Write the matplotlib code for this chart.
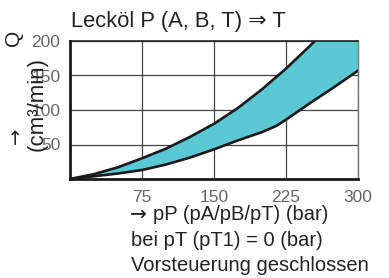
import matplotlib
matplotlib.use("Agg")
import matplotlib.pyplot as plt
import numpy as np

plt.rcParams['font.family'] = ['Liberation Sans', 'DejaVu Sans']

upper_x = [0, 25, 50, 75, 100, 125, 150, 175, 200, 225, 250, 270]
upper_y = [0, 7, 17, 30, 44, 61, 80, 103, 130, 160, 193, 222]
lower_x = [0, 25, 50, 75, 100, 125, 150, 175, 200, 215, 225, 250, 275, 300]
lower_y = [0, 4, 8, 13, 21, 31, 43, 56, 68, 77, 86, 110, 133, 157]

xticks = [75, 150, 225, 300]
yticks = [50, 100, 150, 200]

title = "Lecköl P (A, B, T) ⇒ T"
xlabel_first = "pP (pA/pB/pT) (bar)"
xlabel_lines = ["bei pT (pT1) = 0 (bar)", "Vorsteuerung geschlossen"]

fig = plt.figure(figsize=(3.89, 2.78), dpi=100)
ax = fig.add_axes([70/389, 1-179/278, (358-70)/389, (179-41)/278])

xs = np.linspace(0, 300, 301)
up = np.interp(xs, upper_x, upper_y)
lo = np.interp(xs, lower_x, lower_y)
ax.fill_between(xs, lo, np.minimum(up, 200), color='#5bc8d6', zorder=2, lw=0)
ax.plot(upper_x, upper_y, color='#1a1a1a', lw=1.9, zorder=3, solid_capstyle='round')
ax.plot(lower_x, lower_y, color='#1a1a1a', lw=1.9, zorder=3, solid_capstyle='round')

ax.set_xlim(0, 300)
ax.set_ylim(0, 200)
ax.set_xticks(xticks)
ax.set_yticks(yticks)
ax.grid(True, color='#444444', lw=0.9, zorder=1)
ax.tick_params(length=0, labelsize=12.5, colors='#666666')
ax.tick_params(axis='x', pad=8)
ax.tick_params(axis='y', pad=7)
for s in ['left', 'bottom']:
    ax.spines[s].set_linewidth(2.0)
    ax.spines[s].set_color('#1a1a1a')
ax.spines['top'].set_linewidth(1.2)
ax.spines['top'].set_color('#222222')
ax.spines['right'].set_linewidth(1.0)
ax.spines['right'].set_color('#777777')
ax.set_axisbelow(True)

tc = '#222222'
fig.text(71/389, 1-21/278, title, fontsize=15.8, va='center', ha='left', color=tc)
fig.text(130/389, 1-214/278, "→", fontsize=14.5, va='center', ha='left', color=tc, family='DejaVu Sans')
fig.text(153/389, 1-214/278, xlabel_first, fontsize=14.5, va='center', ha='left', color=tc)
for i, line in enumerate(xlabel_lines):
    fig.text(131/389, 1-(240+25.5*i)/278, line, fontsize=14.5, va='center', ha='left', color=tc)

fig.text(13/389, 1-38/278, "Q", fontsize=15, rotation=90, va='center', ha='center', color=tc)
fig.text(16/389, 1-136/278, "→", fontsize=14, rotation=90, va='center', ha='center', color=tc, family='DejaVu Sans')
fig.text(37/389, 1-104/278, "(cm³/min)", fontsize=16, rotation=90, va='center', ha='center', color=tc)

fig.savefig("out.png", dpi=100)
